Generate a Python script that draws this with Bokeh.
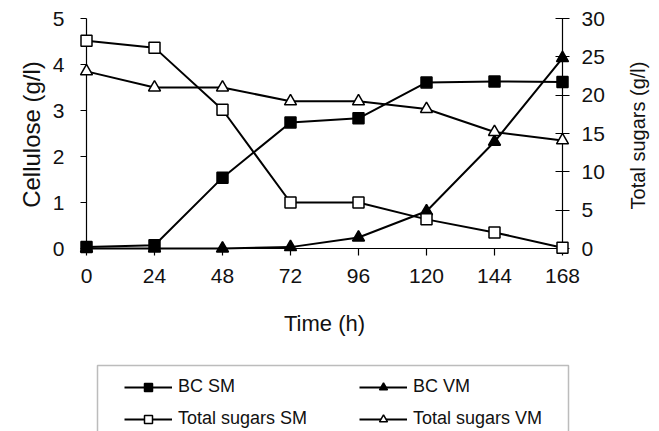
import math
from bokeh.plotting import figure
from bokeh.models import (Range1d, LinearAxis, FixedTicker, Legend, LegendItem,
                          Label, BoxAnnotation)
from bokeh.embed import file_html
from bokeh.resources import INLINE

# ---- data ----
time_h = [0, 24, 48, 72, 96, 120, 144, 168]
bc_sm = [0.03, 0.07, 1.54, 2.74, 2.83, 3.61, 3.63, 3.62]          # g/l cellulose
bc_vm = [0.0, 0.0, 0.0, 0.03, 0.24, 0.81, 2.32, 4.14]              # g/l cellulose
sugars_sm = [27.1, 26.2, 18.1, 6.0, 6.0, 3.8, 2.1, 0.1]            # g/l total sugars
sugars_vm = [23.1, 21.0, 21.0, 19.2, 19.2, 18.2, 15.2, 14.1]       # g/l total sugars
x_ticks = [0, 24, 48, 72, 96, 120, 144, 168]
left_ticks = [0, 1, 2, 3, 4, 5]
right_ticks = [0, 5, 10, 15, 20, 25, 30]

FONT = "Liberation Sans"
W, H = 659, 431
# canvas pixel positions of the plotting area
X0_PX, X1_PX = 86, 562        # x = 0 and x = 168
Y0_PX, Y1_PX = 248, 18        # value 0 and top value
X_MAX, L_MAX, R_MAX = 168.0, 5.0, 30.0

ppx = (X1_PX - X0_PX) / X_MAX
ppl = (Y0_PX - Y1_PX) / L_MAX
ppr = (Y0_PX - Y1_PX) / R_MAX
x_rng = Range1d(-X0_PX / ppx, X_MAX + (W - X1_PX) / ppx)
yl_rng = Range1d(-(H - Y0_PX) / ppl, L_MAX + Y1_PX / ppl)
yr_rng = Range1d(-(H - Y0_PX) / ppr, R_MAX + Y1_PX / ppr)

p = figure(width=W, height=H, output_backend="svg", toolbar_location=None,
           x_range=x_rng, y_range=yl_rng,
           x_axis_location=None, y_axis_location=None,
           min_border_left=0, min_border_right=0, min_border_top=0,
           min_border_bottom=0)
p.extra_y_ranges = {"sugars": yr_rng}
p.outline_line_color = None
p.grid.visible = False
p.background_fill_color = "white"
p.border_fill_color = "white"

# x axis at y = 0
xa = LinearAxis(ticker=FixedTicker(ticks=x_ticks), fixed_location=0,
                bounds=(0, X_MAX))
xa.major_tick_in = 0
xa.major_tick_out = 7
xa.major_label_standoff = 13
p.add_layout(xa, "below")

# left axis at x = 0
ya = LinearAxis(ticker=FixedTicker(ticks=left_ticks), fixed_location=0,
                bounds=(0, L_MAX))
ya.major_tick_in = 0
ya.major_tick_out = 6
ya.major_label_standoff = 16
p.add_layout(ya, "left")

# right axis at x = 168
ra = LinearAxis(y_range_name="sugars", ticker=FixedTicker(ticks=right_ticks),
                fixed_location=X_MAX, bounds=(0, R_MAX))
ra.major_tick_in = 7
ra.major_tick_out = 7
ra.major_label_standoff = 12
p.add_layout(ra, "right")

for ax in (xa, ya, ra):
    ax.minor_tick_line_color = None
    ax.axis_line_color = "black"
    ax.axis_line_width = 1.2
    ax.major_tick_line_color = "black"
    ax.major_tick_line_width = 1.2
    ax.major_label_text_font = FONT
    ax.major_label_text_font_size = "21px"
    ax.major_label_text_color = "#111111"

# axis titles
p.add_layout(Label(x=X_MAX / 2, y=H - 323, y_units="screen", text="Time (h)",
                   text_align="center", text_baseline="middle",
                   text_font=FONT, text_font_size="22px",
                   text_color="#111111"))
p.add_layout(Label(x=31, y=H - 134, x_units="screen", y_units="screen",
                   text="Cellulose (g/l)", angle=math.pi / 2,
                   text_align="center", text_baseline="middle",
                   text_font=FONT, text_font_size="24px",
                   text_color="#111111"))
p.add_layout(Label(x=637, y=H - 135, x_units="screen", y_units="screen",
                   text="Total sugars (g/l)", angle=math.pi / 2,
                   text_align="center", text_baseline="middle",
                   text_font=FONT, text_font_size="20px",
                   text_color="#111111"))

LW = 2
# lines first
l1 = p.line(time_h, bc_sm, line_color="black", line_width=LW, level="overlay")
l2 = p.line(time_h, bc_vm, line_color="black", line_width=LW, level="overlay")
l3 = p.line(time_h, sugars_sm, line_color="black", line_width=LW,
            y_range_name="sugars", level="overlay")
l4 = p.line(time_h, sugars_vm, line_color="black", line_width=LW,
            y_range_name="sugars", level="overlay")
# markers
s1 = p.scatter(time_h, bc_sm, marker="square", size=11, fill_color="black",
               line_color="black", line_width=1.5, level="overlay")
s2 = p.scatter(time_h, bc_vm, marker="triangle", size=12, fill_color="black",
               line_color="black", line_width=1.5, level="overlay")
s3 = p.scatter(time_h, sugars_sm, marker="square", size=11, fill_color="white",
               line_color="black", line_width=1.5, y_range_name="sugars",
               level="overlay")
s4 = p.scatter(time_h, sugars_vm, marker="triangle", size=12, fill_color="white",
               line_color="black", line_width=1.5, y_range_name="sugars",
               level="overlay")

# legend frame
p.add_layout(BoxAnnotation(left=97, right=568, top=365, bottom=445,
                           left_units="canvas", right_units="canvas",
                           top_units="canvas", bottom_units="canvas",
                           fill_color="white", fill_alpha=1.0,
                           line_color="#222222", line_width=1.5,
                           level="overlay"))

legend = Legend(items=[
    LegendItem(label="BC SM", renderers=[l1, s1]),
    LegendItem(label="Total sugars SM", renderers=[l3, s3]),
    LegendItem(label="BC VM", renderers=[l2, s2]),
    LegendItem(label="Total sugars VM", renderers=[l4, s4]),
], ncols=2, location=(113, -9))
legend.level = "overlay"
legend.border_line_alpha = 0
legend.background_fill_alpha = 0
legend.padding = 11
legend.spacing = 11
legend.glyph_width = 48
legend.glyph_height = 20
legend.label_height = 20
legend.label_standoff = 6
legend.label_width = 170
legend.label_text_font = FONT
legend.label_text_font_size = "18px"
legend.label_text_color = "#111111"
legend.margin = 0
p.add_layout(legend)

open("out.html", "w").write(file_html(p, INLINE))
